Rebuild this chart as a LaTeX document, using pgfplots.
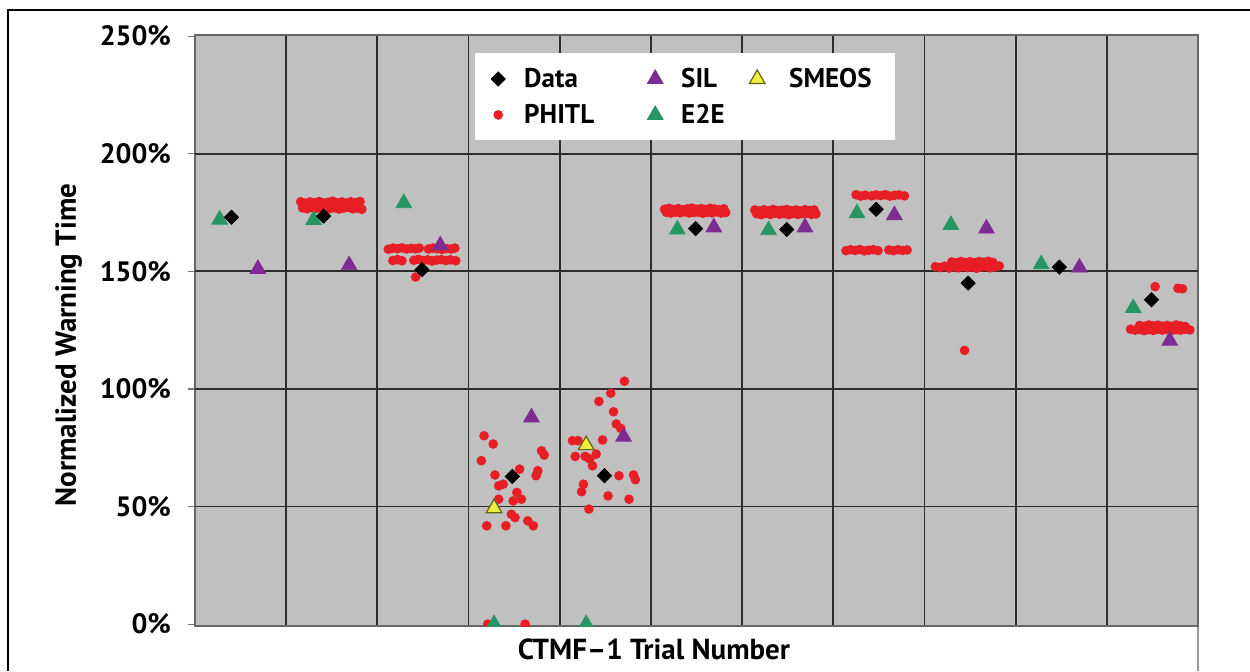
\documentclass[border=0pt]{standalone}
\usepackage{fontspec}
\setmainfont{PT Sans}
\usepackage{pgfplots}
\pgfplotsset{compat=1.18}
\definecolor{bggray}{RGB}{192,192,192}
\definecolor{gridc}{RGB}{45,45,45}
\definecolor{phitl}{RGB}{232,30,38}
\definecolor{e2e}{RGB}{38,150,100}
\definecolor{sil}{RGB}{125,45,145}
\definecolor{smeos}{RGB}{240,238,60}
\definecolor{smeosline}{RGB}{100,100,20}
\newcommand\lbl{\fontsize{14.5}{16}\selectfont\bfseries}
\newcommand\tlbl{\fontsize{14}{16}\selectfont\bfseries}
\newcommand\leglbl{\fontsize{13.5}{15}\selectfont\bfseries}

\pgfplotstableread{
x y
1.16 179.6
1.21 179.0
1.26 179.5
1.31 179.2
1.36 179.7
1.41 179.1
1.46 179.4
1.51 179.8
1.56 179.2
1.61 179.5
1.66 179.0
1.71 179.6
1.76 179.3
1.81 179.7
1.18 177.0
1.23 176.6
1.28 177.2
1.33 176.8
1.38 177.1
1.48 176.7
1.53 177.0
1.58 176.5
1.63 176.9
1.68 177.2
1.73 176.6
1.78 176.9
1.83 176.4
2.12 159.4
2.17 159.9
2.22 159.6
2.27 160.0
2.32 159.5
2.37 159.8
2.42 159.6
2.46 159.9
2.56 159.5
2.61 159.9
2.66 159.6
2.71 159.3
2.76 159.7
2.81 159.5
2.85 159.9
2.17 154.6
2.22 155.0
2.27 154.5
2.40 154.7
2.45 155.1
2.50 154.6
2.55 154.9
2.60 154.4
2.65 154.8
2.70 155.0
2.75 154.6
2.80 154.9
2.86 154.5
2.42 147.6
3.17 80.1
3.27 76.6
3.14 69.5
3.80 73.7
3.83 71.9
3.29 63.4
3.56 65.9
3.76 65.2
3.74 63.1
3.33 58.8
3.38 59.5
3.53 56.0
3.58 53.1
3.49 52.4
3.33 53.1
3.47 46.7
3.51 45.3
3.65 43.9
3.71 41.8
3.20 41.8
3.41 41.8
3.21 0.0
3.62 0.0
4.71 103.3
4.56 98.2
4.43 94.7
4.59 90.3
4.62 85.1
4.67 83.2
4.14 78.0
4.20 78.0
4.47 78.3
4.17 71.3
4.40 72.3
4.33 70.2
4.36 67.3
4.28 71.3
4.65 63.1
4.81 63.4
4.83 61.4
4.26 59.5
4.24 56.3
4.53 54.5
4.76 53.1
4.32 48.9
5.15 176.4
5.20 176.8
5.25 176.3
5.30 176.7
5.35 176.2
5.40 176.6
5.45 176.9
5.50 176.4
5.55 176.7
5.60 176.3
5.65 176.8
5.70 176.5
5.75 176.2
5.80 176.6
5.17 175.1
5.22 174.8
5.27 175.2
5.32 174.9
5.37 175.3
5.42 174.8
5.47 175.0
5.52 175.2
5.57 174.7
5.62 175.1
5.67 174.9
5.72 175.3
5.77 174.8
5.82 175.0
6.14 176.1
6.19 175.7
6.24 176.2
6.29 175.8
6.34 176.3
6.39 175.9
6.44 176.0
6.49 176.3
6.54 175.8
6.59 176.1
6.64 175.7
6.69 176.2
6.74 175.9
6.79 176.1
6.16 174.5
6.21 174.1
6.26 174.6
6.31 174.2
6.36 174.7
6.41 174.3
6.46 174.5
6.51 174.1
6.56 174.6
6.61 174.2
6.66 174.5
6.71 174.7
6.76 174.2
6.81 174.4
7.25 182.6
7.30 182.0
7.35 182.4
7.42 182.1
7.47 182.5
7.52 182.2
7.57 182.6
7.62 182.0
7.67 182.3
7.72 182.5
7.78 182.1
7.14 158.8
7.19 159.2
7.24 158.9
7.29 159.3
7.34 158.7
7.39 159.0
7.44 159.2
7.49 158.8
7.61 159.1
7.66 158.8
7.71 159.2
7.76 158.9
7.81 159.1
8.30 154.0
8.35 153.6
8.40 154.2
8.45 153.8
8.50 154.1
8.55 153.7
8.60 154.2
8.65 153.9
8.70 154.3
8.75 153.8
8.12 152.0
8.17 151.6
8.22 152.2
8.27 151.4
8.32 151.9
8.37 151.5
8.42 152.1
8.47 151.6
8.52 151.9
8.57 151.3
8.62 151.8
8.67 152.1
8.72 151.5
8.77 151.9
8.82 152.3
8.44 116.4
10.53 143.5
10.78 142.8
10.83 142.6
10.36 127.0
10.41 126.6
10.46 127.2
10.51 126.8
10.56 127.1
10.61 126.7
10.66 127.0
10.71 126.6
10.76 127.2
10.81 126.8
10.86 126.5
10.26 125.4
10.31 125.0
10.36 125.3
10.41 124.8
10.46 125.2
10.51 124.9
10.56 125.4
10.61 125.0
10.66 125.3
10.71 124.8
10.76 125.2
10.81 125.0
10.86 125.4
10.91 125.1
}\phitltab

\pgfplotstableread{
x y
0.27 172.0
1.30 171.8
2.29 179.0
3.28 0.0
4.29 0.0
5.29 167.8
6.29 167.5
7.26 174.7
8.29 169.7
9.28 153.0
10.29 134.4
}\etoetab

\pgfplotstableread{
x y
0.69 151.0
1.69 152.6
2.69 161.0
3.69 87.9
4.70 79.7
5.69 168.7
6.69 168.7
7.67 173.9
8.68 168.2
9.70 151.6
10.69 120.5
}\siltab

\pgfplotstableread{
x y
3.28 49.3
4.29 76.1
}\smeostab

\pgfplotstableread{
x y
0.40 173.0
1.41 173.5
2.49 150.7
3.48 62.8
4.49 63.1
5.49 168.2
6.49 167.8
7.47 176.4
8.48 145.0
9.48 151.8
10.49 137.9
}\datatab

\pgfplotsset{
  datast/.style={black, only marks, mark=square*, mark size=2.5pt, mark options={rotate=45}},
  phitlst/.style={phitl, only marks, mark=*, mark size=2.2pt},
  silst/.style={sil, only marks, mark=triangle*, mark size=4.5pt},
  e2est/.style={e2e, only marks, mark=triangle*, mark size=4.5pt},
  smeosst/.style={smeosline, only marks, mark=triangle*, mark size=4.5pt, mark options={fill=smeos, line width=0.6pt}},
}

\begin{document}
\begin{tikzpicture}
\path[use as bounding box] (0,0) rectangle (625pt,335.5pt);
\draw[line width=1.3pt] (4pt,0) -- (4pt,330.5pt) -- (625pt,330.5pt);
\draw[black!40, line width=0.6pt] (599pt,0) -- (599pt,22.5pt);
\begin{axis}[
  at={(97.5pt,22.5pt)}, anchor=south west,
  scale only axis, width=501.5pt, height=295.5pt,
  xmin=0, xmax=11, ymin=-0.8, ymax=250.5,
  axis background/.style={fill=bggray},
  x axis line style={draw=none},
  y axis line style={draw=black!60, line width=0.8pt},
  xtick={1,...,10}, xticklabels={}, xmajorgrids,
  x tick style={draw=none},
  ytick={0,50,...,250},
  yticklabels={0\%,50\%,100\%,150\%,200\%,250\%},
  ytick pos=left, tick align=outside,
  y tick style={draw=black!55, line width=0.6pt},
  major tick length=3.5pt,
  extra y ticks={50,100,150,200}, extra y tick labels={},
  extra y tick style={grid=major, major tick length=0pt},
  grid style={draw=gridc, line width=0.9pt},
  yticklabel style={font=\tlbl, xshift=-5pt},
  clip marker paths=true,
  xlabel={CTMF--1 Trial Number},
  xlabel style={font=\lbl, at={(axis description cs:0.4576,0)}, anchor=center, yshift=-11.5pt},
  ylabel={Normalized Warning Time},
  ylabel style={font=\lbl, at={(axis description cs:-0.126,0.4755)}, anchor=center},
  legend columns=3,
  legend image code/.code={\path[draw=none, fill=none] (0pt,-2pt) rectangle (12pt,2pt); \draw[mark repeat=2, mark phase=2, #1] plot coordinates {(0pt,0pt) (6pt,0pt) (12pt,0pt)};},
  legend style={at={(axis description cs:0.279,0.9695)}, anchor=north west,
    draw=none, fill=white, inner xsep=5.5pt, inner ysep=7pt, row sep=6.5pt,
    font=\leglbl, nodes={inner sep=0pt},
    /tikz/every odd column/.style={column sep=7pt}},
]
\addlegendimage{datast}
\addlegendentry{\makebox[59.5pt][l]{\rule[-3pt]{0pt}{13pt}Data}}
\addlegendimage{silst}
\addlegendentry{\makebox[32pt][l]{\rule[-3pt]{0pt}{13pt}SIL}}
\addlegendimage{smeosst}
\addlegendentry{\makebox[50.5pt][l]{\rule[-3pt]{0pt}{13pt}\hspace*{3pt}SMEOS}}
\addlegendimage{phitlst}
\addlegendentry{\makebox[59.5pt][l]{\rule[-3pt]{0pt}{13pt}PHITL}}
\addlegendimage{e2est}
\addlegendentry{\makebox[32pt][l]{\rule[-3pt]{0pt}{13pt}E2E}}

\addplot[forget plot, phitlst] table {\phitltab};
\addplot[forget plot, e2est] table {\etoetab};
\addplot[forget plot, silst] table {\siltab};
\addplot[forget plot, smeosst] table {\smeostab};
\addplot[forget plot, datast] table {\datatab};
\end{axis}
\end{tikzpicture}
\end{document}
